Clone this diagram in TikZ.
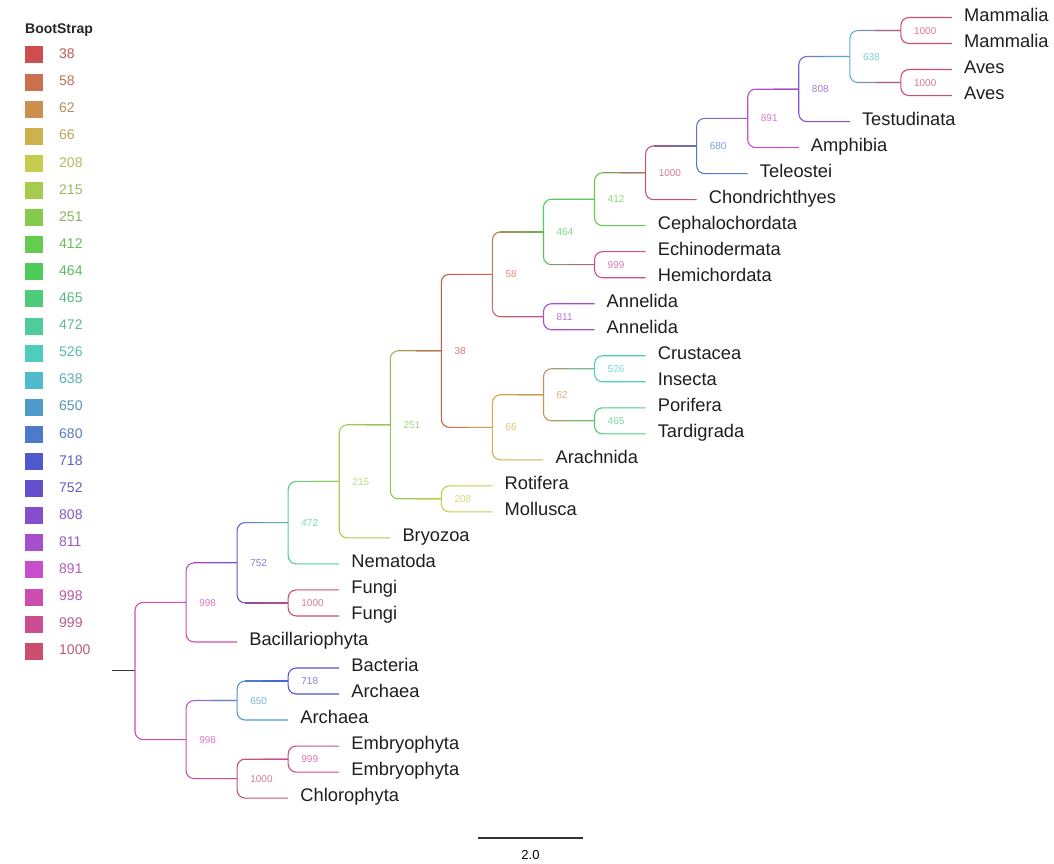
\documentclass[tikz,border=0pt]{standalone}
\usepackage{fontspec}
\setmainfont{Liberation Sans}
\usetikzlibrary{calc}

% bootstrap colours, one hue step each
\definecolor{c38}{RGB}{204,78,78}
\definecolor{c58}{RGB}{204,111,78}
\definecolor{c62}{RGB}{204,144,78}
\definecolor{c66}{RGB}{204,177,78}
\definecolor{c208}{RGB}{198,204,78}
\definecolor{c215}{RGB}{166,204,78}
\definecolor{c251}{RGB}{133,204,78}
\definecolor{c412}{RGB}{100,204,78}
\definecolor{c464}{RGB}{78,204,89}
\definecolor{c465}{RGB}{78,204,122}
\definecolor{c472}{RGB}{78,204,155}
\definecolor{c526}{RGB}{78,204,188}
\definecolor{c638}{RGB}{78,188,204}
\definecolor{c650}{RGB}{78,155,204}
\definecolor{c680}{RGB}{78,122,204}
\definecolor{c718}{RGB}{78,89,204}
\definecolor{c752}{RGB}{100,78,204}
\definecolor{c808}{RGB}{133,78,204}
\definecolor{c811}{RGB}{166,78,204}
\definecolor{c891}{RGB}{199,78,204}
\definecolor{c998}{RGB}{204,78,177}
\definecolor{c999}{RGB}{204,78,144}
\definecolor{c1000}{RGB}{204,78,111}
\definecolor{leaftext}{HTML}{1E1E1E}

\tikzset{
    branch/.style={line width=1.1pt, rounded corners=8pt},
    leaf/.style={anchor=west, inner xsep=12pt, inner ysep=0pt, text=leaftext,
        text height=0.72em, text depth=0pt, font=\fontsize{18.3}{20}\selectfont},
    boot/.style={anchor=west, xshift=13pt, inner sep=0pt, text=#1!75!white,
        text height=0.72em, text depth=0pt, font=\fontsize{10}{12}\selectfont},
    legnum/.style={anchor=west, inner sep=0pt, text=#1!75!gray,
        text height=0.72em, text depth=0pt, font=\fontsize{14}{16}\selectfont},
}

% edge from parent #1 to child #2, colour running from #3 to #4
\newcommand{\edge}[4]{%
    \draw [branch,#3!85!#4] (#1) |- (#2);
    \draw [branch,#3!55!#4] ($(#1 |- #2)+(8pt,0)$) -- (#2);
    \draw [branch,#3!20!#4] ($(#1 |- #2)!0.5!(#2)$) -- (#2);
}
% edge in one colour
\newcommand{\leafedge}[3]{%
    \draw [branch,#3] (#1) |- (#2);
}

\begin{document}
\begin{tikzpicture}[x=1pt,y=-1pt]
    \useasboundingbox (0,0) rectangle (1054,864);

    % legend
    \node [anchor=west, inner sep=0pt, text=black!85, font=\bfseries\fontsize{14}{16}\selectfont] (title) at (25,30) {BootStrap};
    \foreach \v [count=\i from 0] in {38,58,62,66,208,215,251,412,464,465,472,526,638,650,680,718,752,808,811,891,998,999,1000}{%
        \fill [c\v] (25,{46.5+27.1*\i}) rectangle ++(18,17);
        \node [legnum=c\v] (k\v) at (59,{55+27.1*\i}) {\v};
    }

    % scale bar
    \coordinate (sbl) at (478,838);
    \coordinate (sbr) at (583,838);
    \draw [line width=1.2pt, black!80] (sbl) -- (sbr);
    \node [inner sep=0pt, font=\fontsize{13}{15}\selectfont] (sblab) at (530.5,855) {2.0};

    \begin{scope}[shift={(135,17.5)}, x=51.06pt, y=-26.02pt]

        % leaves
        \node [leaf] (mam1) at (16,0)  {Mammalia};
        \node [leaf] (mam2) at (16,1)  {Mammalia};
        \node [leaf] (ave1) at (16,2)  {Aves};
        \node [leaf] (ave2) at (16,3)  {Aves};
        \node [leaf] (tes)  at (14,4)  {Testudinata};
        \node [leaf] (amp)  at (13,5)  {Amphibia};
        \node [leaf] (tel)  at (12,6)  {Teleostei};
        \node [leaf] (cho)  at (11,7)  {Chondrichthyes};
        \node [leaf] (cep)  at (10,8)  {Cephalochordata};
        \node [leaf] (ech)  at (10,9)  {Echinodermata};
        \node [leaf] (hem)  at (10,10) {Hemichordata};
        \node [leaf] (ann1) at (9,11)  {Annelida};
        \node [leaf] (ann2) at (9,12)  {Annelida};
        \node [leaf] (cru)  at (10,13) {Crustacea};
        \node [leaf] (ins)  at (10,14) {Insecta};
        \node [leaf] (por)  at (10,15) {Porifera};
        \node [leaf] (tar)  at (10,16) {Tardigrada};
        \node [leaf] (ara)  at (8,17)  {Arachnida};
        \node [leaf] (rot)  at (7,18)  {Rotifera};
        \node [leaf] (mol)  at (7,19)  {Mollusca};
        \node [leaf] (bry)  at (5,20)  {Bryozoa};
        \node [leaf] (nem)  at (4,21)  {Nematoda};
        \node [leaf] (fun1) at (4,22)  {Fungi};
        \node [leaf] (fun2) at (4,23)  {Fungi};
        \node [leaf] (bac)  at (2,24)  {Bacillariophyta};
        \node [leaf] (bct)  at (4,25)  {Bacteria};
        \node [leaf] (arc1) at (4,26)  {Archaea};
        \node [leaf] (arc2) at (3,27)  {Archaea};
        \node [leaf] (emb1) at (4,28)  {Embryophyta};
        \node [leaf] (emb2) at (4,29)  {Embryophyta};
        \node [leaf] (chl)  at (3,30)  {Chlorophyta};

        % branch points
        \coordinate (m1000) at (15,0.5);
        \coordinate (a1000) at (15,2.5);
        \coordinate (n638)  at (14,1.5);
        \coordinate (n808)  at (13,2.75);
        \coordinate (n891)  at (12,3.875);
        \coordinate (n680)  at (11,4.9375);
        \coordinate (v1000) at (10,5.969);
        \coordinate (n412)  at (9,6.984);
        \coordinate (e999)  at (9,9.5);
        \coordinate (n464)  at (8,8.242);
        \coordinate (n811)  at (8,11.5);
        \coordinate (n58)   at (7,9.871);
        \coordinate (n526)  at (9,13.5);
        \coordinate (n465)  at (9,15.5);
        \coordinate (n62)   at (8,14.5);
        \coordinate (n66)   at (7,15.75);
        \coordinate (n38)   at (6,12.81);
        \coordinate (n208)  at (6,18.5);
        \coordinate (n251)  at (5,15.655);
        \coordinate (n215)  at (4,17.83);
        \coordinate (n472)  at (3,19.41);
        \coordinate (g1000) at (3,22.5);
        \coordinate (n752)  at (2,20.96);
        \coordinate (u998)  at (1,22.48);
        \coordinate (n718)  at (3,25.5);
        \coordinate (n650)  at (2,26.25);
        \coordinate (p999)  at (3,28.5);
        \coordinate (p1000) at (2,29.25);
        \coordinate (l998)  at (1,27.75);
        \coordinate (root)  at (0,25.11);
        \coordinate (stub)  at (-0.45,25.11);

        % branches
        \draw [line width=1.2pt, black!80] (stub) -- (root);
        \leafedge{root}{u998}{c998}
        \leafedge{root}{l998}{c998}
        \edge{u998}{n752}{c998}{c752}
        \leafedge{u998}{bac.west}{c998}
        \edge{n752}{n472}{c752}{c472}
        \edge{n752}{g1000}{c752}{c1000}
        \leafedge{g1000}{fun1.west}{c1000}
        \leafedge{g1000}{fun2.west}{c1000}
        \edge{n472}{n215}{c472}{c215}
        \leafedge{n472}{nem.west}{c472}
        \edge{n215}{n251}{c215}{c251}
        \leafedge{n215}{bry.west}{c215}
        \edge{n251}{n38}{c251}{c38}
        \edge{n251}{n208}{c251}{c208}
        \leafedge{n208}{rot.west}{c208}
        \leafedge{n208}{mol.west}{c208}
        \edge{n38}{n58}{c38}{c58}
        \edge{n38}{n66}{c38}{c66}
        \edge{n66}{n62}{c66}{c62}
        \leafedge{n66}{ara.west}{c66}
        \edge{n62}{n526}{c62}{c526}
        \edge{n62}{n465}{c62}{c465}
        \leafedge{n526}{cru.west}{c526}
        \leafedge{n526}{ins.west}{c526}
        \leafedge{n465}{por.west}{c465}
        \leafedge{n465}{tar.west}{c465}
        \edge{n58}{n464}{c58}{c464}
        \edge{n58}{n811}{c58}{c811}
        \leafedge{n811}{ann1.west}{c811}
        \leafedge{n811}{ann2.west}{c811}
        \edge{n464}{n412}{c464}{c412}
        \edge{n464}{e999}{c464}{c999}
        \leafedge{e999}{ech.west}{c999}
        \leafedge{e999}{hem.west}{c999}
        \edge{n412}{v1000}{c412}{c1000}
        \leafedge{n412}{cep.west}{c412}
        \edge{v1000}{n680}{c1000}{c680}
        \leafedge{v1000}{cho.west}{c1000}
        \edge{n680}{n891}{c680}{c891}
        \leafedge{n680}{tel.west}{c680}
        \edge{n891}{n808}{c891}{c808}
        \leafedge{n891}{amp.west}{c891}
        \edge{n808}{n638}{c808}{c638}
        \leafedge{n808}{tes.west}{c808}
        \edge{n638}{m1000}{c638}{c1000}
        \edge{n638}{a1000}{c638}{c1000}
        \leafedge{m1000}{mam1.west}{c1000}
        \leafedge{m1000}{mam2.west}{c1000}
        \leafedge{a1000}{ave1.west}{c1000}
        \leafedge{a1000}{ave2.west}{c1000}
        \edge{l998}{n650}{c998}{c650}
        \edge{l998}{p1000}{c998}{c1000}
        \edge{n650}{n718}{c650}{c718}
        \leafedge{n650}{arc2.west}{c650}
        \leafedge{n718}{bct.west}{c718}
        \leafedge{n718}{arc1.west}{c718}
        \edge{p1000}{p999}{c1000}{c999}
        \leafedge{p1000}{chl.west}{c1000}
        \leafedge{p999}{emb1.west}{c999}
        \leafedge{p999}{emb2.west}{c999}

        % bootstrap values
        \node [boot=c1000] (bm1000) at (m1000) {1000};
        \node [boot=c1000] (ba1000) at (a1000) {1000};
        \node [boot=c638]  (b638)   at (n638)  {638};
        \node [boot=c808]  (b808)   at (n808)  {808};
        \node [boot=c891]  (b891)   at (n891)  {891};
        \node [boot=c680]  (b680)   at (n680)  {680};
        \node [boot=c1000] (bv1000) at (v1000) {1000};
        \node [boot=c412]  (b412)   at (n412)  {412};
        \node [boot=c999]  (be999)  at (e999)  {999};
        \node [boot=c464]  (b464)   at (n464)  {464};
        \node [boot=c811]  (b811)   at (n811)  {811};
        \node [boot=c58]   (b58)    at (n58)   {58};
        \node [boot=c526]  (b526)   at (n526)  {526};
        \node [boot=c465]  (b465)   at (n465)  {465};
        \node [boot=c62]   (b62)    at (n62)   {62};
        \node [boot=c66]   (b66)    at (n66)   {66};
        \node [boot=c38]   (b38)    at (n38)   {38};
        \node [boot=c208]  (b208)   at (n208)  {208};
        \node [boot=c251]  (b251)   at (n251)  {251};
        \node [boot=c215]  (b215)   at (n215)  {215};
        \node [boot=c472]  (b472)   at (n472)  {472};
        \node [boot=c1000] (bg1000) at (g1000) {1000};
        \node [boot=c752]  (b752)   at (n752)  {752};
        \node [boot=c998]  (bu998)  at (u998)  {998};
        \node [boot=c718]  (b718)   at (n718)  {718};
        \node [boot=c650]  (b650)   at (n650)  {650};
        \node [boot=c999]  (bp999)  at (p999)  {999};
        \node [boot=c1000] (bp1000) at (p1000) {1000};
        \node [boot=c998]  (bl998)  at (l998)  {998};

    \end{scope}
\end{tikzpicture}
\end{document}
